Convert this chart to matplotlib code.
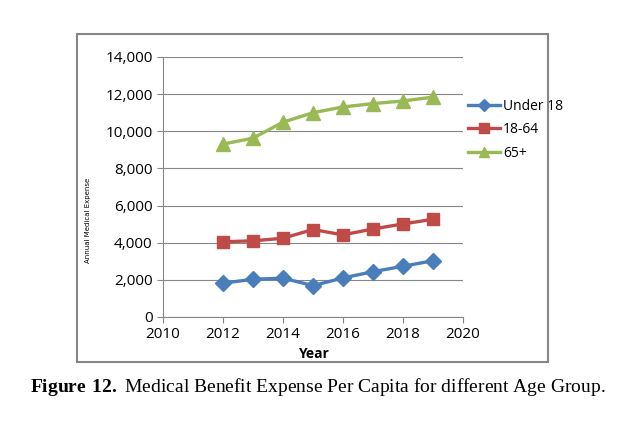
import matplotlib
matplotlib.use('Agg')
from matplotlib import pyplot as plt
from matplotlib.patches import Rectangle

# donnees
annees = [2012, 2013, 2014, 2015, 2016, 2017, 2018, 2019]
under_18 = [1820, 2030, 2090, 1690, 2100, 2440, 2730, 3030]
age_18_64 = [4050, 4100, 4240, 4710, 4420, 4740, 5010, 5260]
age_65_plus = [9310, 9630, 10490, 11000, 11310, 11490, 11630, 11840]
labels = ["Under 18", "18-64", "65+"]

plt.rcParams['mathtext.fontset'] = 'custom'
plt.rcParams['mathtext.rm'] = 'Liberation Serif'
plt.rcParams['mathtext.bf'] = 'Liberation Serif:bold'

fig = plt.figure(figsize=(6.35, 4.24), dpi=100)

# cadre du graphique type Excel
fig.patches.append(Rectangle((0.1213, 0.1462), 0.7417, 0.7736, transform=fig.transFigure,
                             fill=False, edgecolor='#868686', linewidth=1.5))

ax = fig.add_axes([0.2567, 0.2524, 0.4724, 0.6132])
ax.plot(annees, under_18, color='#4A7EBB', linewidth=2.4, marker='D', markersize=8, label=labels[0])
ax.plot(annees, age_18_64, color='#BE4B48', linewidth=2.4, marker='s', markersize=9, label=labels[1])
ax.plot(annees, age_65_plus, color='#98B954', linewidth=2.4, marker='^', markersize=10, label=labels[2])

ax.set_xlim(2010, 2020)
ax.set_ylim(0, 14000)
ax.set_xticks(range(2010, 2021, 2))
ax.set_yticks(range(0, 14001, 2000))
ax.set_yticklabels([f"{v:,}" for v in range(0, 14001, 2000)])
ax.yaxis.grid(True, color='#868686', linewidth=0.8)
ax.set_axisbelow(True)
for s in ['top', 'right']:
    ax.spines[s].set_visible(False)
for s in ['left', 'bottom']:
    ax.spines[s].set_color('#868686')
ax.tick_params(axis='both', colors='#868686', labelcolor='black', labelsize=11, length=4)
for t in ax.get_xticklabels() + ax.get_yticklabels():
    t.set_fontfamily('Open Sans')

ax.set_xlabel("Year", fontsize=10, fontweight='bold', family='Open Sans', labelpad=3)
fig.text(0.138, 0.48, "Annual Medical Expense", rotation=90, fontsize=5, ha='center', va='center')

leg = ax.legend(loc='center left', bbox_to_anchor=(0.995, 0.72), frameon=False, fontsize=10,
                handlelength=2.3, handletextpad=0.2, labelspacing=0.6, borderpad=0, markerscale=0.75)
for t in leg.get_texts():
    t.set_fontfamily('Open Sans')

fig.text(0.5, 0.087, r"$\mathbf{Figure\ 12.}$ Medical Benefit Expense Per Capita for different Age Group.",
         ha='center', va='center', fontsize=14, family='Liberation Serif')

fig.savefig('out.png', dpi=100)
